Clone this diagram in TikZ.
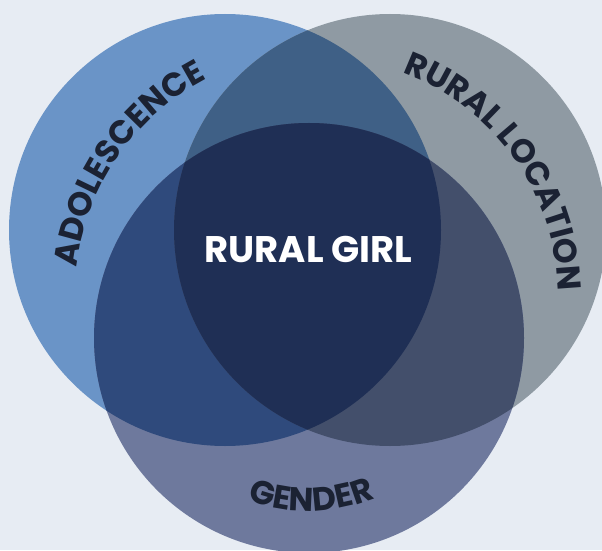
\documentclass[tikz,border=0pt]{standalone}
\usepackage{fontspec}
\usetikzlibrary{calc,decorations.text}

\newfontfamily\labelfont{Poppins}
\newfontfamily\girlfont{Poppins}

\definecolor{bgcol}{HTML}{E7ECF3}
\definecolor{adolcol}{HTML}{6A94C7}
\definecolor{ruralcol}{HTML}{8F9AA3}
\definecolor{gendercol}{HTML}{6E799D}
\definecolor{adolrural}{HTML}{3F6086}
\definecolor{adolgender}{HTML}{2F4A7C}
\definecolor{ruralgender}{HTML}{434F6B}
\definecolor{allthree}{HTML}{1F2F55}
\definecolor{labelcol}{HTML}{1B2233}

\newcommand{\arclabel}{\labelfont\bfseries\fontsize{33}{33}\selectfont\color{labelcol}}

\begin{document}
\begin{tikzpicture}[x=1pt,y=1pt,
    curved/.style={decorate,decoration={text along path,text align=center,
      text={|\arclabel|#1}}}]
  \useasboundingbox (0,0) rectangle (602,550);
  \fill[bgcol] (0,0) rectangle (602,550);
  \clip (0,0) rectangle (602,550);

  \coordinate (adol) at (225,320);
  \coordinate (rural) at (390,320);
  \coordinate (gender) at (309,212);
  \coordinate (mid) at (320,254);

  % single sets
  \fill[adolcol] (adol) circle (216);
  \fill[ruralcol] (rural) circle (216);
  \fill[gendercol] (gender) circle (215);

  % pairwise overlaps
  \begin{scope}
    \clip (adol) circle (216);
    \fill[adolrural] (rural) circle (216);
    \fill[adolgender] (gender) circle (215);
  \end{scope}
  \begin{scope}
    \clip (rural) circle (216);
    \fill[ruralgender] (gender) circle (215);
  \end{scope}

  % centre, all three
  \begin{scope}
    \clip (adol) circle (216);
    \clip (rural) circle (216);
    \fill[allthree] (gender) circle (215);
  \end{scope}

  % labels
  \path[curved=ADOLESCENCE] ($(mid)+(185.5:245)$) arc[start angle=185.5,end angle=105.5,radius=245];
  \path[curved=RURAL LOCATION] ($(mid)+(75.5:238)$) arc[start angle=75.5,end angle=-4.5,radius=238];
  \path[curved=GENDER] ($(gender)+(240.8:173)$) arc[start angle=240.8,end angle=300.8,radius=173];

  \node[text=white,font=\girlfont\bfseries\fontsize{37}{37}\selectfont] (girl) at (308.5,301) {RURAL GIRL};
\end{tikzpicture}
\end{document}
